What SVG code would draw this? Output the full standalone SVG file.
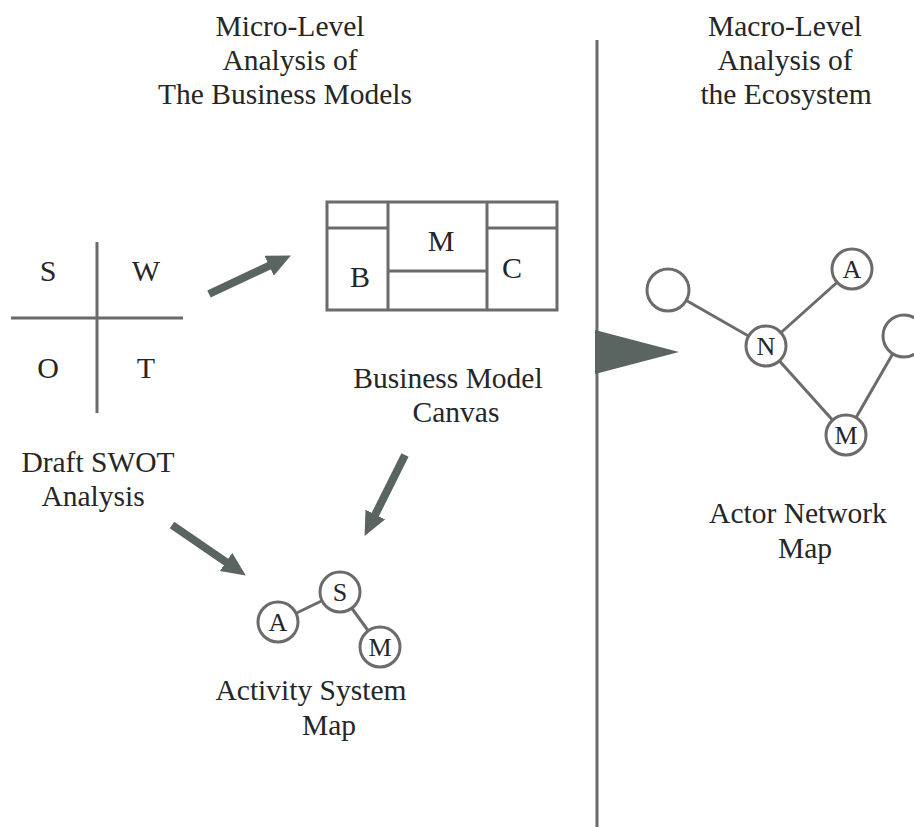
<svg xmlns="http://www.w3.org/2000/svg" width="914" height="827" viewBox="0 0 914 827">
  <style>
    .txt { font-family: "Liberation Serif", "Times New Roman", serif; font-size: 29.5px; fill: #262626; text-anchor: middle; }
    .big { font-family: "Liberation Serif", "Times New Roman", serif; font-size: 30px; fill: #262626; text-anchor: middle; }
    .lbl { font-family: "Liberation Serif", "Times New Roman", serif; font-size: 26px; fill: #262626; text-anchor: middle; }
    .ln { stroke: #6b6b6b; stroke-width: 3; fill: none; }
    .nd { stroke: #6b6b6b; stroke-width: 3; fill: #ffffff; }
    .arr { stroke: #5a6461; stroke-width: 8; fill: none; marker-end: url(#head); }
  </style>
  <defs>
    <marker id="head" markerUnits="userSpaceOnUse" markerWidth="26" markerHeight="24" refX="11" refY="11" orient="auto">
      <path d="M0,0 L24,11 L0,22 Z" fill="#5a6461"/>
    </marker>
  </defs>
  <rect width="914" height="827" fill="#ffffff"/>

  <!-- section headings -->
  <g id="title-micro">
    <text class="txt" x="290" y="36">Micro-Level</text>
    <text class="txt" x="290" y="70">Analysis of</text>
    <text class="txt" x="285" y="104">The Business Models</text>
  </g>
  <g id="title-macro">
    <text class="txt" x="785" y="36">Macro-Level</text>
    <text class="txt" x="785" y="70">Analysis of</text>
    <text class="txt" x="786" y="104">the Ecosystem</text>
  </g>

  <!-- divider with transition triangle -->
  <g id="divider">
    <line x1="597" y1="40" x2="597" y2="827" class="ln"/>
    <polygon points="595,330 679,352 595,374" fill="#5a6461"/>
  </g>

  <!-- SWOT grid -->
  <g id="swot">
    <line x1="97" y1="242" x2="97" y2="413" class="ln"/>
    <line x1="11" y1="318" x2="183" y2="318" class="ln"/>
    <text class="big" x="48" y="281">S</text>
    <text class="big" x="146" y="281">W</text>
    <text class="big" x="48" y="378">O</text>
    <text class="big" x="146" y="378">T</text>
    <text class="txt" x="98" y="472">Draft SWOT</text>
    <text class="txt" x="93" y="506">Analysis</text>
  </g>

  <!-- Business Model Canvas -->
  <g id="canvas">
    <rect x="327" y="202" width="230" height="108" class="ln"/>
    <line x1="388" y1="202" x2="388" y2="310" class="ln"/>
    <line x1="487" y1="202" x2="487" y2="310" class="ln"/>
    <line x1="327" y1="228" x2="388" y2="228" class="ln"/>
    <line x1="487" y1="228" x2="557" y2="228" class="ln"/>
    <line x1="388" y1="271" x2="487" y2="271" class="ln"/>
    <text class="big" x="441" y="251">M</text>
    <text class="big" x="360" y="287">B</text>
    <text class="big" x="512" y="278">C</text>
    <text class="txt" x="448" y="388">Business Model</text>
    <text class="txt" x="456" y="422">Canvas</text>
  </g>

  <!-- Activity System Map -->
  <g id="activity">
    <line x1="340" y1="592" x2="278" y2="622" class="ln"/>
    <line x1="340" y1="592" x2="380" y2="647" class="ln"/>
    <circle cx="340" cy="592" r="20" class="nd"/>
    <circle cx="278" cy="622" r="20" class="nd"/>
    <circle cx="380" cy="647" r="20" class="nd"/>
    <text class="lbl" x="340" y="601">S</text>
    <text class="lbl" x="278" y="631">A</text>
    <text class="lbl" x="380" y="656">M</text>
    <text class="txt" x="311" y="700">Activity System</text>
    <text class="txt" x="329" y="735">Map</text>
  </g>

  <!-- Actor Network Map -->
  <g id="actor">
    <line x1="668" y1="290" x2="766" y2="346" class="ln"/>
    <line x1="766" y1="346" x2="852" y2="269" class="ln"/>
    <line x1="766" y1="346" x2="846" y2="435" class="ln"/>
    <line x1="846" y1="435" x2="903" y2="336" class="ln"/>
    <circle cx="668" cy="290" r="21" class="nd"/>
    <circle cx="852" cy="269" r="20" class="nd"/>
    <circle cx="766" cy="346" r="20" class="nd"/>
    <circle cx="846" cy="435" r="20" class="nd"/>
    <circle cx="904" cy="336" r="21" class="nd"/>
    <text class="lbl" x="852" y="278">A</text>
    <text class="lbl" x="766" y="355">N</text>
    <text class="lbl" x="846" y="444">M</text>
    <text class="txt" x="798" y="523">Actor Network</text>
    <text class="txt" x="805" y="558">Map</text>
  </g>

  <!-- flow arrows -->
  <g id="connectors">
    <line x1="209" y1="294" x2="279.1" y2="261.1" class="arr"/>
    <line x1="172" y1="525" x2="235.1" y2="568.2" class="arr"/>
    <line x1="405" y1="455" x2="370.4" y2="524.3" class="arr"/>
  </g>
</svg>
